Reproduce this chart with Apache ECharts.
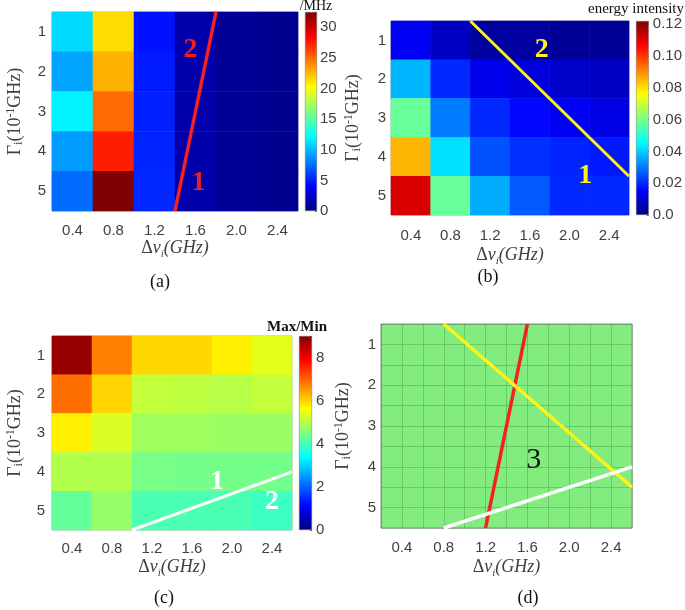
<!DOCTYPE html>
<html>
<head>
<meta charset="utf-8">
<script src="https://cdn.jsdelivr.net/npm/echarts@6/dist/echarts.min.js"></script>
<style>html,body{margin:0;padding:0;background:#fff}#c{width:685px;height:610px}</style>
</head>
<body>
<div id="c"></div>
<script>
// ---- data ----
const xCats = ['0.4', '0.8', '1.2', '1.6', '2.0', '2.4'];
const yCats = ['1', '2', '3', '4', '5'];

// (a) values, rows Γ=1..5, columns Δν=0.4..2.4  (MHz)
const aValues = [
  [11.0, 21.4, 4.6, 1.4, 0.8, 0.5],
  [9.3, 22.8, 4.9, 1.4, 0.8, 0.5],
  [11.8, 25.0, 5.1, 1.4, 0.8, 0.5],
  [9.0, 27.5, 5.2, 1.4, 0.8, 0.5],
  [7.5, 32.5, 5.3, 1.4, 0.8, 0.5]
];
// (b) energy intensity
const bValues = [
  [0.014, 0.008, 0.004, 0.004, 0.003, 0.003],
  [0.037, 0.020, 0.013, 0.011, 0.009, 0.008],
  [0.058, 0.030, 0.020, 0.016, 0.014, 0.012],
  [0.085, 0.042, 0.025, 0.021, 0.0195, 0.018],
  [0.111, 0.058, 0.036, 0.026, 0.020, 0.020]
];
// (c) Max/Min
const cValues = [
  [8.8, 6.75, 5.98, 5.98, 5.76, 5.4],
  [6.9, 6.0, 5.1, 5.05, 5.0, 5.1],
  [5.75, 5.3, 4.8, 4.78, 4.75, 4.75],
  [4.95, 4.95, 4.43, 4.4, 4.4, 4.4],
  [4.26, 4.7, 4.04, 4.04, 4.04, 3.9]
];
const aMax = 32.5, aStep = 5;
const bMax = 0.122, bStep = 0.02;
const cMax = 9, cStep = 2;

// boundary lines [Δν, Γ]
const aRedLine = [[1.4, 5.5], [1.8, 0.5]];
const bYellowLine = [[1.0, 0.5], [2.6, 4.5]];
const cWhiteLine = [[1.0, 5.5], [2.6, 4.0]];
const dRedLine = [[1.2, 5.5], [1.6, 0.5]];
const dYellowLine = [[0.8, 0.5], [2.6, 4.5]];
const dWhiteLine = [[0.8, 5.5], [2.6, 4.0]];

// region labels [Δν, Γ, text]
const aLabels = [[1.55, 1.45, '2'], [1.63, 4.8, '1']];
const bLabels = [[1.72, 1.25, '2'], [2.16, 4.5, '1']];
const cLabels = [[1.85, 4.25, '1'], [2.4, 4.77, '2']];
const dLabels = [[1.66, 3.83, '3']];

// ---- styling ----
const jet = ['#00007f', '#0000ff', '#007fff', '#00ffff', '#7fff7f', '#ffff00', '#ff7f00', '#ff0000', '#7f0000'];
const TXT = '#404040';
const SANS = 'Liberation Sans, Arial, sans-serif';
const SERIF = 'Liberation Serif, Times New Roman, serif';
const FS = 15;

const xName = '{d|Δ}{v|v}{s|i}{v|(GHz)}';
const xRich = {
  d: { fontFamily: SERIF, fontSize: 18, color: TXT, lineHeight: 24 },
  v: { fontFamily: SERIF, fontStyle: 'italic', fontSize: 18, color: TXT, lineHeight: 24 },
  s: { fontFamily: SERIF, fontStyle: 'italic', fontSize: 11, color: TXT, lineHeight: 12, verticalAlign: 'bottom' }
};
const yName = '{n|Γ}{s|i}{n|(10}{p|-1}{n|GHz)}';
const yRich = {
  n: { fontFamily: SERIF, fontSize: 18, color: TXT, lineHeight: 20 },
  s: { fontFamily: SERIF, fontSize: 12, color: TXT, lineHeight: 10, verticalAlign: 'bottom' },
  p: { fontFamily: SERIF, fontSize: 12, color: TXT, lineHeight: 10, verticalAlign: 'top' }
};

const grids = [], xAxes = [], yAxes = [], series = [], visualMaps = [];

function labelSeries(gi, labels, color, weight, size) {
  return {
    type: 'scatter', xAxisIndex: gi, yAxisIndex: gi, symbolSize: 1, silent: true, z: 6,
    itemStyle: { color: 'rgba(0,0,0,0)', opacity: 1 },
    data: labels.map(d => ({ value: [d[0], d[1]], name: d[2] })),
    label: { show: true, position: 'inside', formatter: '{b}', color: color, fontFamily: SERIF, fontWeight: weight, fontSize: size }
  };
}

function heatPanel(p) {
  const gHeat = grids.length;
  grids.push({ left: p.left, top: p.top, width: p.width, height: p.height, show: true, borderColor: '#aaa', borderWidth: 1, backgroundColor: '#fff' });
  xAxes.push({
    type: 'category', data: xCats, gridIndex: gHeat,
    axisLine: { show: false }, axisTick: { show: false }, splitLine: { show: false },
    axisLabel: { color: TXT, fontSize: FS, fontFamily: SANS, margin: p.xm },
    name: xName, nameLocation: 'middle', nameGap: p.xg, nameTextStyle: { rich: xRich }
  });
  yAxes.push({
    type: 'category', data: yCats, gridIndex: gHeat, inverse: true,
    axisLine: { show: false }, axisTick: { show: false }, splitLine: { show: false },
    axisLabel: { color: TXT, fontSize: FS, fontFamily: SANS, margin: p.ym },
    name: yName, nameLocation: 'middle', nameGap: p.yg, nameTextStyle: { rich: yRich }
  });
  const data = [];
  p.values.forEach((row, yi) => row.forEach((v, xi) => data.push([xi, yi, v])));
  const sHeat = series.length;
  series.push({ type: 'heatmap', xAxisIndex: gHeat, yAxisIndex: gHeat, data: data, silent: true, progressive: 0 });
  visualMaps.push({ show: false, type: 'continuous', min: 0, max: p.max, dimension: 2, seriesIndex: sHeat, inRange: { color: jet } });

  // overlay grid (continuous coords) for boundary lines & labels
  const gOv = grids.length;
  grids.push({ left: p.left, top: p.top, width: p.width, height: p.height });
  xAxes.push({ type: 'value', gridIndex: gOv, min: 0.2, max: 2.6, show: false });
  yAxes.push({ type: 'value', gridIndex: gOv, min: 0.5, max: 5.5, inverse: true, show: false });
  p.lines.forEach(l => series.push({
    type: 'line', xAxisIndex: gOv, yAxisIndex: gOv, data: l.data, symbol: 'none', silent: true, z: 5,
    lineStyle: { color: l.color, width: l.width }
  }));
  series.push(labelSeries(gOv, p.labels, p.labelColor, 'bold', 28));

  // colorbar
  const gCb = grids.length;
  grids.push({ left: p.cbLeft, top: p.top, width: p.cbWidth, height: p.height });
  xAxes.push({ type: 'category', data: ['c'], gridIndex: gCb, show: false });
  yAxes.push({
    type: 'value', gridIndex: gCb, min: 0, max: p.max, interval: p.step, position: 'right',
    axisLine: { show: false }, axisTick: { show: true, inside: true, length: 2, lineStyle: { color: '#666' } }, splitLine: { show: false },
    axisLabel: { color: TXT, fontSize: FS, fontFamily: SANS, margin: p.cbm, formatter: p.fmt }
  });
  series.push({
    type: 'bar', xAxisIndex: gCb, yAxisIndex: gCb, data: [p.max], barWidth: '100%', silent: true,
    itemStyle: {
      color: { type: 'linear', x: 0, y: 0, x2: 0, y2: 1, colorStops: jet.slice().reverse().map((c, i) => ({ offset: i / 8, color: c })) },
      borderColor: '#777', borderWidth: 0.5
    }
  });
}

function tickFmt(step, dec) {
  return v => {
    const k = Math.round(v / step);
    if (Math.abs(k * step - v) > step * 1e-6) return '';
    if (k === 0 && dec) return '0.0';
    return dec ? v.toFixed(dec) : String(Math.round(v));
  };
}

heatPanel({
  left: 52, top: 12, width: 246, height: 199, values: aValues, max: aMax, step: aStep, fmt: tickFmt(aStep, 0),
  cbLeft: 305, cbWidth: 12, cbm: 3, xm: 12, xg: 25, ym: 6, yg: 27,
  lines: [{ data: aRedLine, color: '#f52020', width: 3.5 }], labels: aLabels, labelColor: '#f02020'
});
heatPanel({
  left: 391, top: 21, width: 238, height: 194, values: bValues, max: bMax, step: bStep, fmt: tickFmt(bStep, 2),
  cbLeft: 636, cbWidth: 13, cbm: 4, xm: 13, xg: 28, ym: 5, yg: 28,
  lines: [{ data: bYellowLine, color: '#fbf31a', width: 3 }], labels: bLabels, labelColor: '#fff21a'
});
heatPanel({
  left: 52, top: 336, width: 240, height: 194, values: cValues, max: cMax, step: cStep, fmt: tickFmt(cStep, 0),
  cbLeft: 299, cbWidth: 13, cbm: 4, xm: 11, xg: 25, ym: 7, yg: 27,
  lines: [{ data: cWhiteLine, color: '#ffffff', width: 3 }], labels: cLabels, labelColor: '#ffffff'
});

// (d) combined regions
const gD = grids.length;
grids.push({ left: 381, top: 324, width: 251, height: 204, show: true, backgroundColor: '#82ec7e', borderColor: '#8a8a8a', borderWidth: 1 });
xAxes.push({
  type: 'value', gridIndex: gD, min: 0.2, max: 2.6, interval: 0.2,
  axisLine: { show: false }, axisTick: { show: false },
  splitLine: { show: true, lineStyle: { color: 'rgba(40,120,40,0.3)', width: 1 } },
  axisLabel: {
    color: TXT, fontSize: FS, fontFamily: SANS, margin: 12, showMinLabel: true, showMaxLabel: true,
    formatter: v => { const k = Math.round(v * 10); return (k % 4 === 0 && k >= 4 && k <= 24) ? (k / 10).toFixed(1) : ''; }
  },
  name: xName, nameLocation: 'middle', nameGap: 27, nameTextStyle: { rich: xRich }
});
yAxes.push({
  type: 'value', gridIndex: gD, min: 0.5, max: 5.5, interval: 0.5, inverse: true,
  axisLine: { show: false }, axisTick: { show: false },
  splitLine: { show: true, lineStyle: { color: 'rgba(40,120,40,0.3)', width: 1 } },
  axisLabel: {
    color: TXT, fontSize: FS, fontFamily: SANS, margin: 5,
    formatter: v => { const k = Math.round(v * 2); return (k % 2 === 0) ? String(k / 2) : ''; }
  },
  name: yName, nameLocation: 'middle', nameGap: 28, nameTextStyle: { rich: yRich }
});
[{ data: dRedLine, color: '#f52020' }, { data: dYellowLine, color: '#fbf31a' }, { data: dWhiteLine, color: '#ffffff' }]
  .forEach(l => series.push({
    type: 'line', xAxisIndex: gD, yAxisIndex: gD, data: l.data, symbol: 'none', silent: true, z: 5,
    lineStyle: { color: l.color, width: 3.5 }
  }));
series.push(labelSeries(gD, dLabels, '#111', 'normal', 30));

function txt(x, y, text, font, align) {
  return { type: 'text', x: x, y: y, silent: true, style: { text: text, font: font, fill: '#111', textAlign: align || 'center', textVerticalAlign: 'middle' } };
}

const chart = echarts.init(document.getElementById('c'), null, { renderer: 'canvas' });
chart.setOption({
  animation: false,
  backgroundColor: '#ffffff',
  grid: grids, xAxis: xAxes, yAxis: yAxes, visualMap: visualMaps, series: series,
  graphic: [
    txt(316, 6, '/MHz', '14px ' + SERIF),
    txt(684, 9, 'energy intensity', '15px ' + SERIF, 'right'),
    txt(297, 327, 'Max/Min', 'bold 15px ' + SERIF),
    txt(160, 282, '(a)', '18px ' + SERIF),
    txt(488, 277, '(b)', '18px ' + SERIF),
    txt(164, 598, '(c)', '18px ' + SERIF),
    txt(528, 598, '(d)', '18px ' + SERIF)
  ]
});
</script>
</body>
</html>
